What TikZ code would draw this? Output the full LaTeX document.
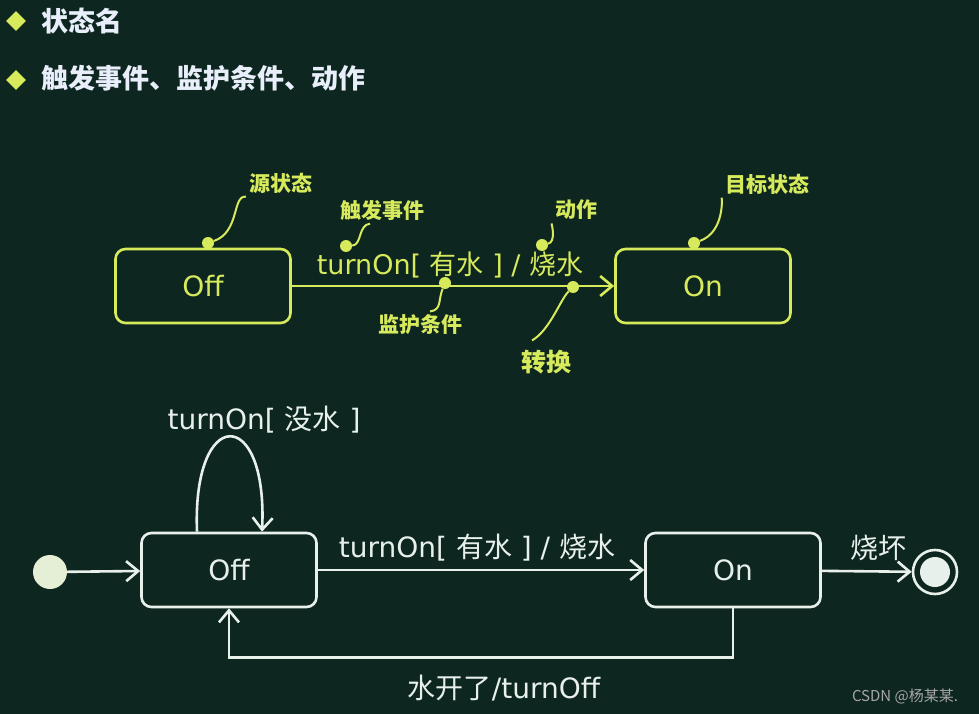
\documentclass[tikz,border=0pt]{standalone}
\usepackage{fontspec}
\setmainfont{DejaVu Sans}
\newfontfamily\zhfont{Noto Sans CJK SC}
\newcommand{\zh}[1]{{\zhfont #1}}
\usetikzlibrary{arrows.meta,shapes.geometric}
\definecolor{bg}{RGB}{14,38,32}
\definecolor{lime}{RGB}{214,234,92}
\definecolor{chalk}{RGB}{232,240,236}
\definecolor{head}{RGB}{232,238,250}
\begin{document}
\begin{tikzpicture}[x=1pt,y=-1pt,
state/.style={draw,rounded corners=10pt,line width=2.6pt,minimum width=175pt,minimum height=74pt,font=\fontsize{28}{28}\selectfont},
dot/.style={circle,fill=lime,inner sep=0pt,minimum size=12pt},
note/.style={text=lime,font=\zhfont\bfseries\fontsize{21}{21}\selectfont},
lbl/.style={font=\fontsize{28}{28}\selectfont},
tip/.style={-{Straight Barb[length=12pt,width=20pt]},line width=2.6pt},
bullet/.style={diamond,fill=lime,inner sep=0pt,minimum size=20pt},
title/.style={anchor=west,text=head,font=\zhfont\bfseries\fontsize{27}{27}\selectfont}
]
\useasboundingbox[fill=bg] (0,0) rectangle (979,714);

% headings
\node[bullet] (b1) at (16,21) {};
\node[title] (h1) at (38,21) {状态名};
\node[bullet] (b2) at (16,80) {};
\node[title] (h2) at (38,78) {触发事件、监护条件、动作};

% upper transition with notes
\node[state,draw=lime,text=lime] (1) at (203,286) {Off};
\node[state,draw=lime,text=lime] (2) at (703,286) {On};
\draw[tip,lime] (1) -- (2);
\node[lbl,text=lime,font=\fontsize{27}{27}\selectfont] (3) at (450,265) {turnOn[ \zh{有水} ] / \zh{烧水}};

\node[dot] (d1) at (208,243) {};
\node[note] (n1) at (281,183) {源状态};
\draw[lime,line width=2pt] (d1) .. controls (240,232) and (232,195) .. (n1.south west);
\node[dot] (d2) at (346,246) {};
\node[note] (n2) at (382,210) {触发事件};
\draw[lime,line width=2pt] (d2) .. controls (362,245) and (358,225) .. ([xshift=-12pt]n2.south);
\node[dot] (d3) at (445,283) {};
\node[note] (n3) at (420,325) {监护条件};
\draw[lime,line width=2pt] (d3) .. controls (438,300) and (442,310) .. ([xshift=10pt]n3.north);
\node[dot] (d4) at (542,245) {};
\node[note] (n4) at (576,210) {动作};
\draw[lime,line width=2pt] (d4) .. controls (556,242) and (552,225) .. (n4.south west);
\node[dot] (d5) at (573,287) {};
\node[note,font=\zhfont\bfseries\fontsize{25}{25}\selectfont] (n5) at (546,362) {转换};
\draw[lime,line width=2pt] (d5) .. controls (560,300) and (550,330) .. ([xshift=-14pt,yshift=6pt]n5.north);
\node[dot] (d6) at (694,243) {};
\node[note] (n6) at (767,184) {目标状态};
\draw[lime,line width=2pt] (d6) .. controls (725,232) and (722,196) .. (n6.south west);

% lower state machine
\node[circle,fill=chalk!85!lime,inner sep=0pt,minimum size=34pt] (4) at (50,572) {};
\node[state,draw=chalk,text=chalk] (5) at (229,570) {Off};
\node[state,draw=chalk,text=chalk] (6) at (733,570) {On};
\node[circle,draw=chalk,line width=2.6pt,inner sep=0pt,minimum size=44pt] (7) at (935,572) {};
\node[circle,fill=chalk,inner sep=0pt,minimum size=30pt] (8) at (7) {};

\draw[tip,chalk] (4) -- (5);
\draw[tip,chalk] ([xshift=-32pt]5.north) .. controls (192,405) and (268,405) .. ([xshift=33pt]5.north);
\node[lbl,text=chalk] (9) at (264,420) {turnOn[ \zh{没水} ]};
\draw[tip,chalk] (5) -- (6);
\node[lbl,text=chalk] (10) at (477,548) {turnOn[ \zh{有水} ] / \zh{烧水}};
\draw[tip,chalk] (6) -- (7);
\node[lbl,text=chalk] (11) at (878,548) {\zh{烧坏}};
\draw[tip,chalk] (6.south) -- ++(0,49) -| (5.south);
\node[lbl,text=chalk] (12) at (504,688) {\zh{水开了}/turnOff};

\node[text=gray!70,font=\zhfont\fontsize{15}{15}\selectfont] (13) at (905,696) {CSDN @杨某某.};
\end{tikzpicture}
\end{document}
